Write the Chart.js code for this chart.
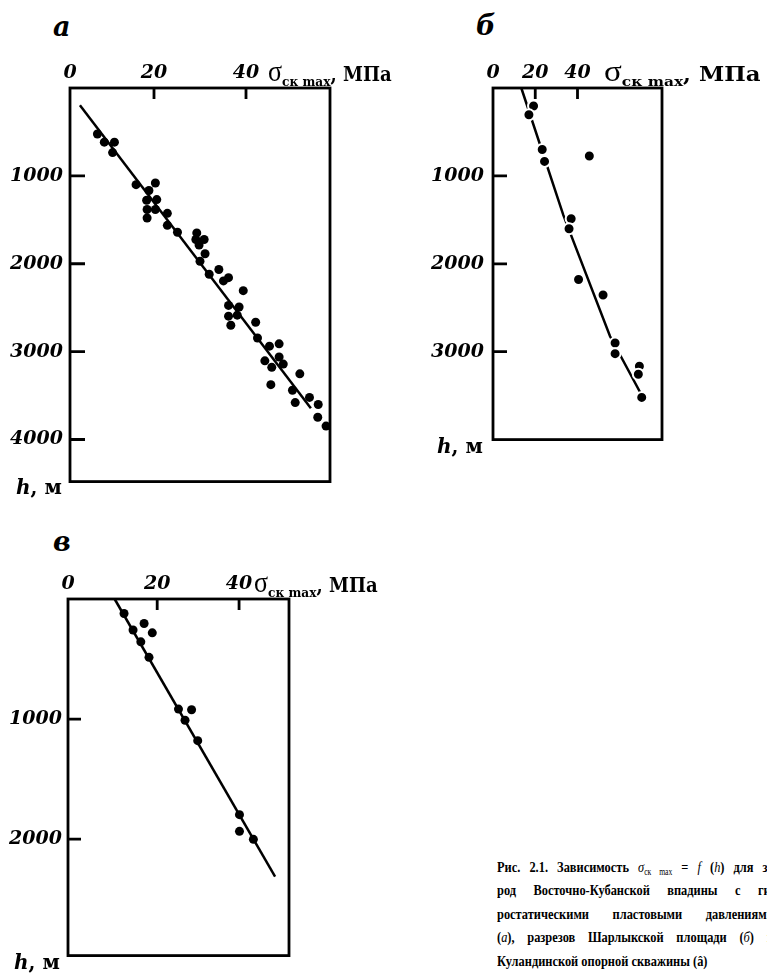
<!DOCTYPE html>
<html><head><meta charset="utf-8">
<script src="https://cdn.jsdelivr.net/npm/chart.js@4.4.1/dist/chart.umd.min.js"></script>
<style>
html,body{margin:0;padding:0;background:#fff;width:767px;height:973px;overflow:hidden;position:relative}
canvas{position:absolute}
.t{position:absolute;white-space:nowrap;color:#000;line-height:1}
.let{font:bold italic 27px "DejaVu Serif",serif}
.hm{font:bold 20px "DejaVu Serif",serif}
.hm i{font-style:italic}
.ttl{font:bold 20px "DejaVu Serif",serif;transform-origin:0 0}
.ttl .sg{font:normal 29px "Liberation Serif",serif}
.ttl sub{font:bold 13.5px "DejaVu Serif",serif;vertical-align:-5px}
.cap{font:bold 15.5px "Liberation Serif",serif;transform:scaleX(0.8);transform-origin:0 0;
     text-align:justify;text-align-last:justify;white-space:normal;overflow:visible}
.cap i{font-style:italic;font-weight:normal}
.cap sub{font-size:9.5px;font-weight:normal;vertical-align:-3px}
</style></head><body>
<canvas id="ca" width="340" height="450" style="left:0;top:50px"></canvas>
<canvas id="cb" width="250" height="410" style="left:420px;top:50px"></canvas>
<canvas id="cc" width="300" height="413" style="left:0;top:560px"></canvas>

<div class="t let" style="left:53px;top:11px">а</div>
<div class="t let" style="left:476px;top:10px">б</div>
<div class="t let" style="left:53px;top:526px">в</div>

<div class="t ttl" style="left:268px;top:55px;transform:scaleX(0.9)"><span class="sg">σ</span><sub>ск max</sub>, МПа</div>
<div class="t ttl" style="left:604px;top:55px;transform:scaleX(1.14)"><span class="sg">σ</span><sub>ск max</sub>, МПа</div>
<div class="t ttl" style="left:254px;top:566px;transform:scaleX(0.9)"><span class="sg">σ</span><sub>ск max</sub>, МПа</div>

<div class="t hm" style="left:16px;top:475px"><i>h</i>, м</div>
<div class="t hm" style="left:437px;top:434px"><i>h</i>, м</div>
<div class="t hm" style="left:14px;top:950px"><i>h</i>, м</div>

<div class="t cap" style="left:497px;top:858px;width:346px">Рис. 2.1. Зависимость <i>σ</i><sub>ск max</sub> = <i>f</i> (<i>h</i>) для за</div>
<div class="t cap" style="left:497px;top:881px;width:350px">род Восточно-Кубанской впадины с гид</div>
<div class="t cap" style="left:497px;top:905px;width:346px">ростатическими пластовыми давлениями</div>
<div class="t cap" style="left:497px;top:928px;width:346px">(<i>а</i>), разрезов Шарлыкской площади (<i>б</i>) и</div>
<div class="t cap" style="left:497px;top:952px;text-align:left;text-align-last:left;white-space:nowrap">Куландинской опорной скважины (â)</div>

<script>
// ---- Panel а ----
const aSigma = [7.7, 9.2, 11.4, 11.0, 16.1, 20.3, 18.9, 18.4, 20.6, 18.5, 20.3, 18.5, 22.9, 22.9, 25.1, 29.3, 30.9, 29.8, 29.1, 31.1, 30.0, 32.0, 34.1, 35.1, 36.2, 39.4, 36.2, 38.5, 36.2, 38.1, 36.7, 42.1, 42.5, 45.1, 47.2, 47.2, 44.1, 45.6, 48.1, 45.4, 51.7, 50.1, 50.7, 53.8, 55.7, 55.6, 57.4];
const aDepth = [524, 616, 616, 735, 1100, 1081, 1167, 1278, 1270, 1382, 1382, 1479, 1426, 1563, 1641, 1649, 1724, 1786, 1724, 1886, 1972, 2120, 2065, 2195, 2158, 2306, 2474, 2492, 2596, 2585, 2700, 2666, 2845, 2938, 2911, 3061, 3105, 3179, 3142, 3376, 3253, 3440, 3580, 3521, 3602, 3747, 3847];
const aFitSigma = [3.9, 54.1];
const aFitDepth = [197, 3643];
const aXTicks = [0, 20, 40];
const aYTicks = [1000, 2000, 3000, 4000];

// ---- Panel б ----
const bSigma = [19.2, 17.0, 23.3, 24.4, 45.6, 37.0, 36.0, 40.5, 52.1, 57.8, 57.8, 69.3, 68.8, 70.4];
const bDepth = [205, 304, 700, 835, 773, 1487, 1601, 2179, 2355, 2901, 3022, 3165, 3256, 3520];
const bFitSigma = [13.4, 33.3, 55.4, 69.9];
const bFitDepth = [0, 1447, 2824, 3473];
const bXTicks = [0, 20, 40];
const bYTicks = [1000, 2000, 3000];

// ---- Panel в ----
const cSigma = [11.9, 16.8, 18.8, 14.1, 16.0, 18.0, 25.2, 28.4, 26.8, 29.9, 40.1, 40.1, 43.5];
const cDepth = [121, 204, 282, 258, 357, 486, 917, 922, 1010, 1180, 1796, 1935, 2002];
const cFitSigma = [9.6, 48.8];
const cFitDepth = [0, 2312];
const cXTicks = [0, 20, 40];
const cYTicks = [1000, 2000];

const tickFont = {family: '"DejaVu Serif", serif', size: 19, weight: 'bold', style: 'italic'};

const framePlugin = {
  id: 'frame',
  afterDraw(chart) {
    const {ctx, chartArea: ca} = chart;
    const o = chart.options.plugins.frame;
    ctx.save();
    ctx.strokeStyle = '#000';
    ctx.lineWidth = 2.8;
    ctx.strokeRect(ca.left, ca.top, ca.right - ca.left, ca.bottom - ca.top);
    const xs = chart.scales.x, ys = chart.scales.y;
    ctx.beginPath();
    xs.ticks.forEach(t => {
      if (t.value > xs.min + 1) {
        const p = xs.getPixelForValue(t.value);
        ctx.moveTo(p, ca.top); ctx.lineTo(p, ca.top + o.xLen);
      }
    });
    ys.ticks.forEach(t => {
      if (t.value > ys.min + 50) {
        const p = ys.getPixelForValue(t.value);
        ctx.moveTo(ca.left, p); ctx.lineTo(ca.left + o.yLen, p);
      }
    });
    ctx.stroke();
    ctx.restore();
  }
};

function toPts(xs, ys) { return xs.map((x, i) => ({x: x, y: ys[i]})); }

function makePanel(id, cfg) {
  const canvas = document.getElementById(id);
  const W = canvas.width, H = canvas.height;
  new Chart(canvas, {
    type: 'scatter',
    data: {
      datasets: [
        {data: toPts(cfg.sig, cfg.dep), backgroundColor: '#000', borderColor: cfg.halo ? '#fff' : '#000',
         borderWidth: cfg.halo ? 2 : 0, pointRadius: cfg.r, order: 0, clip: false},
        {data: toPts(cfg.fitX, cfg.fitY), showLine: true, borderColor: '#000', borderWidth: 2.5,
         pointRadius: 0, order: 1, clip: false}
      ]
    },
    options: {
      responsive: false, animation: false, devicePixelRatio: 1,
      layout: {padding: {left: 0, top: 0, right: W - (cfg.R - cfg.cx), bottom: H - (cfg.B - cfg.cy)}},
      plugins: {legend: {display: false}, tooltip: {enabled: false}, frame: {xLen: cfg.xLen, yLen: cfg.yLen}},
      scales: {
        x: {
          type: 'linear', position: 'top', min: cfg.xMin, max: cfg.xMax,
          grid: {display: false, drawTicks: false}, border: {display: false},
          // the "0" label sits at the frame corner, as in the original figure
          afterBuildTicks: s => { s.ticks = cfg.xTicks.map(v => ({value: v === 0 ? s.min : v})); },
          afterFit: s => { s.height = cfg.T - cfg.cy; },
          ticks: {color: '#000', font: tickFont, padding: cfg.xPad, maxRotation: 0, autoSkip: false,
                  callback: v => (v <= cfg.xMin + 1e-6 ? '0' : String(Math.round(v)))}
        },
        y: {
          type: 'linear', reverse: true, min: cfg.yMin, max: cfg.yMax,
          grid: {display: false, drawTicks: false}, border: {display: false},
          afterBuildTicks: s => { s.ticks = cfg.yTicks.map(v => ({value: v})); },
          afterFit: s => { s.width = cfg.L - cfg.cx; },
          ticks: {color: '#000', font: tickFont, padding: cfg.yPad, autoSkip: false,
                  callback: v => String(v)}
        }
      }
    },
    plugins: [framePlugin]
  });
}

makePanel('ca', {sig: aSigma, dep: aDepth, fitX: aFitSigma, fitY: aFitDepth, xTicks: aXTicks, yTicks: aYTicks,
  xMin: 1.74, xMax: 58.26, yMin: 0, yMax: 4479, cx: 0, cy: 50, L: 70, T: 88, R: 330, B: 490,
  r: 4.5, halo: false, xLen: 11, yLen: 15, xPad: 4, yPad: 7});
makePanel('cb', {sig: bSigma, dep: bDepth, fitX: bFitSigma, fitY: bFitDepth, xTicks: bXTicks, yTicks: bYTicks,
  xMin: 0, xMax: 80, yMin: 0, yMax: 4000, cx: 420, cy: 50, L: 493, T: 88, R: 662, B: 452,
  r: 5.5, halo: true, xLen: 11, yLen: 14, xPad: 4, yPad: 9});
makePanel('cc', {sig: cSigma, dep: cDepth, fitX: cFitSigma, fitY: cFitDepth, xTicks: cXTicks, yTicks: cYTicks,
  xMin: -1.79, xMax: 52.2, yMin: 0, yMax: 2970, cx: 0, cy: 560, L: 68, T: 599, R: 289, B: 967,
  r: 4.5, halo: false, xLen: 11, yLen: 13, xPad: 4, yPad: 6});
</script>
</body></html>
